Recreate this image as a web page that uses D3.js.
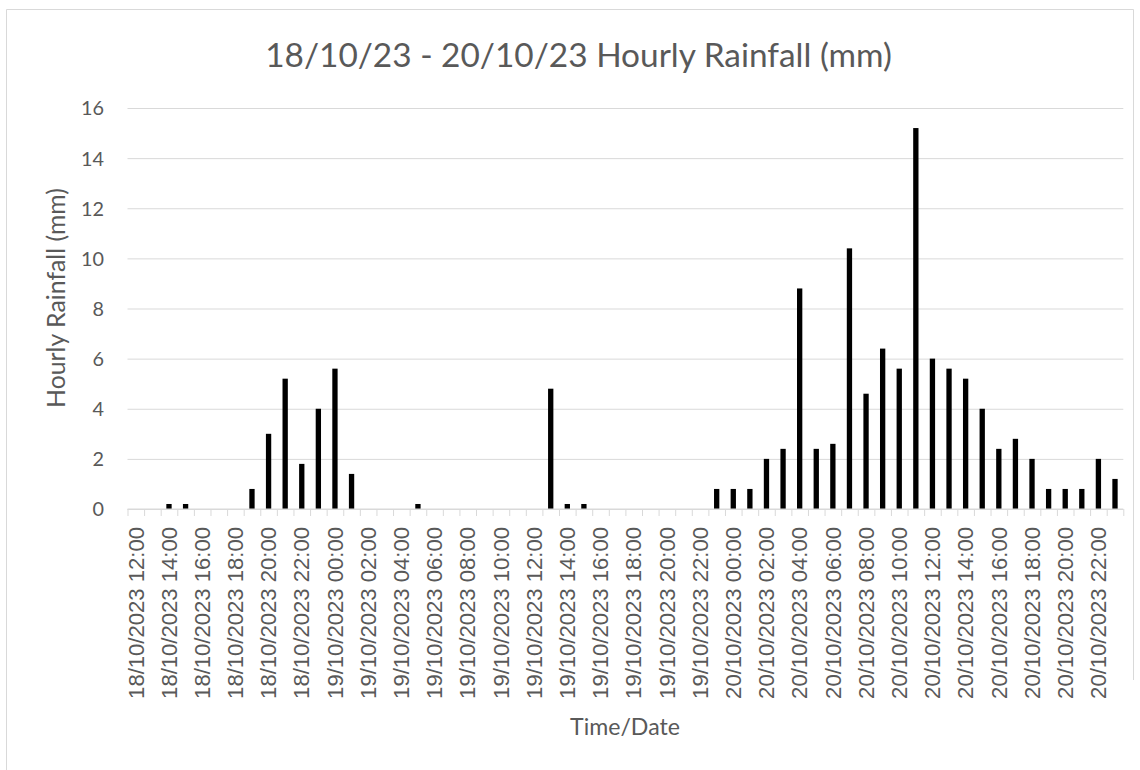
<!DOCTYPE html>
<html><head><meta charset="utf-8">
<script src="https://cdn.jsdelivr.net/npm/d3@7"></script>
<style>
body{margin:0;background:#fff}
svg text{font-family:Lato,"Open Sans",sans-serif;fill:#595959}
svg .xlab text{font-family:"Liberation Sans",Arial,sans-serif}
</style>
</head><body>
<svg id="c" width="1140" height="770"></svg>
<script>
const titleText = "18/10/23 - 20/10/23 Hourly Rainfall (mm)";
const yTitle = "Hourly Rainfall (mm)";
const xTitle = "Time/Date";
const categories = [
"18/10/2023 12:00","18/10/2023 13:00","18/10/2023 14:00","18/10/2023 15:00","18/10/2023 16:00","18/10/2023 17:00",
"18/10/2023 18:00","18/10/2023 19:00","18/10/2023 20:00","18/10/2023 21:00","18/10/2023 22:00","18/10/2023 23:00",
"19/10/2023 00:00","19/10/2023 01:00","19/10/2023 02:00","19/10/2023 03:00","19/10/2023 04:00","19/10/2023 05:00",
"19/10/2023 06:00","19/10/2023 07:00","19/10/2023 08:00","19/10/2023 09:00","19/10/2023 10:00","19/10/2023 11:00",
"19/10/2023 12:00","19/10/2023 13:00","19/10/2023 14:00","19/10/2023 15:00","19/10/2023 16:00","19/10/2023 17:00",
"19/10/2023 18:00","19/10/2023 19:00","19/10/2023 20:00","19/10/2023 21:00","19/10/2023 22:00","19/10/2023 23:00",
"20/10/2023 00:00","20/10/2023 01:00","20/10/2023 02:00","20/10/2023 03:00","20/10/2023 04:00","20/10/2023 05:00",
"20/10/2023 06:00","20/10/2023 07:00","20/10/2023 08:00","20/10/2023 09:00","20/10/2023 10:00","20/10/2023 11:00",
"20/10/2023 12:00","20/10/2023 13:00","20/10/2023 14:00","20/10/2023 15:00","20/10/2023 16:00","20/10/2023 17:00",
"20/10/2023 18:00","20/10/2023 19:00","20/10/2023 20:00","20/10/2023 21:00","20/10/2023 22:00","20/10/2023 23:00"
];
const rainfall = [
0,0,0.2,0.2,0,0,
0,0.8,3.0,5.2,1.8,4.0,
5.6,1.4,0,0,0,0.2,
0,0,0,0,0,0,
0,4.8,0.2,0.2,0,0,
0,0,0,0,0,0.8,
0.8,0.8,2.0,2.4,8.8,2.4,
2.6,10.4,4.6,6.4,5.6,15.2,
6.0,5.6,5.2,4.0,2.4,2.8,
2.0,0.8,0.8,0.8,2.0,1.2
];
const yTicks = [0,2,4,6,8,10,12,14,16];
const xLabelEvery = 2;

const svg = d3.select("#c");
const L = 127.5, R = 1123.3, T = 108, B = 509;
const grid = "#d9d9d9";

function fit(sel, target, base){
  sel.attr("font-size", base);
  const w = sel.node().getComputedTextLength();
  const s = base * target / w;
  sel.attr("font-size", s);
  return s;
}

// border
svg.append("path").attr("d", `M6.5,770 V9.5 H1133.5 V680`).attr("fill","none").attr("stroke",grid).attr("stroke-width",1);

const x = d3.scaleBand().domain(categories).range([L, R]).padding(0);
const xb = d3.scaleLinear().domain([0, categories.length]).range([L, R]);
const y = d3.scaleLinear().domain([0, 16]).range([B, T]);

// y grid + labels
const yAxis = svg.append("g").attr("transform", `translate(${L},0)`)
  .call(d3.axisLeft(y).tickValues(yTicks).tickSize(-(R - L)).tickPadding(23.5).tickFormat(d3.format("d")));
yAxis.select(".domain").remove();
yAxis.selectAll(".tick line").attr("stroke", grid).attr("stroke-width",1);
yAxis.selectAll(".tick text").attr("fill","#595959");
const tmp = yAxis.select(".tick:last-of-type text");
const ySize = fit(tmp, 23, 20);
yAxis.selectAll(".tick text").attr("font-size", ySize).attr("dy","0.35em");

// bars
const bw = x.bandwidth() * 0.32;
svg.append("g").selectAll("rect").data(rainfall).join("rect")
  .attr("x", (d,i) => x(categories[i]) + x.bandwidth()/2 - bw/2)
  .attr("y", d => y(d))
  .attr("width", bw)
  .attr("height", d => B - y(d))
  .attr("fill", "#000");

// x axis ticks at boundaries
const xTickAxis = svg.append("g").attr("transform", `translate(0,${B})`)
  .call(d3.axisBottom(xb).tickValues(d3.range(categories.length + 1)).tickSize(7).tickFormat(""));
xTickAxis.select(".domain").attr("stroke", grid).attr("d", `M${L},0H${R}`);
xTickAxis.selectAll(".tick line").attr("stroke", grid);

// x labels
const labelCats = categories.filter((c,i) => i % xLabelEvery === 0);
const xl = svg.append("g").attr("class","xlab").attr("transform", `translate(0,${B})`)
  .call(d3.axisBottom(x).tickValues(labelCats).tickSize(0).tickPadding(0));
xl.select(".domain").remove();
xl.selectAll(".tick text")
  .attr("text-anchor","end")
  .attr("transform","rotate(-90)")
  .attr("x", -18).attr("y", 0).attr("dy","0.35em")
  .attr("fill","#595959");
const xSize = fit(xl.select(".tick:last-of-type text"), 172, 20);
xl.selectAll(".tick text").attr("font-size", xSize);

// titles
const t = svg.append("text").attr("x", 578.5).attr("y", 67).attr("text-anchor","middle").text(titleText);
fit(t, 627, 30);

const yt = svg.append("text").attr("transform", "translate(65,298) rotate(-90)").attr("text-anchor","middle").text(yTitle);
fit(yt, 220, 22);

const xt = svg.append("text").attr("x", 625).attr("y", 735).attr("text-anchor","middle").text(xTitle);
fit(xt, 110, 22);
</script>
</body></html>
